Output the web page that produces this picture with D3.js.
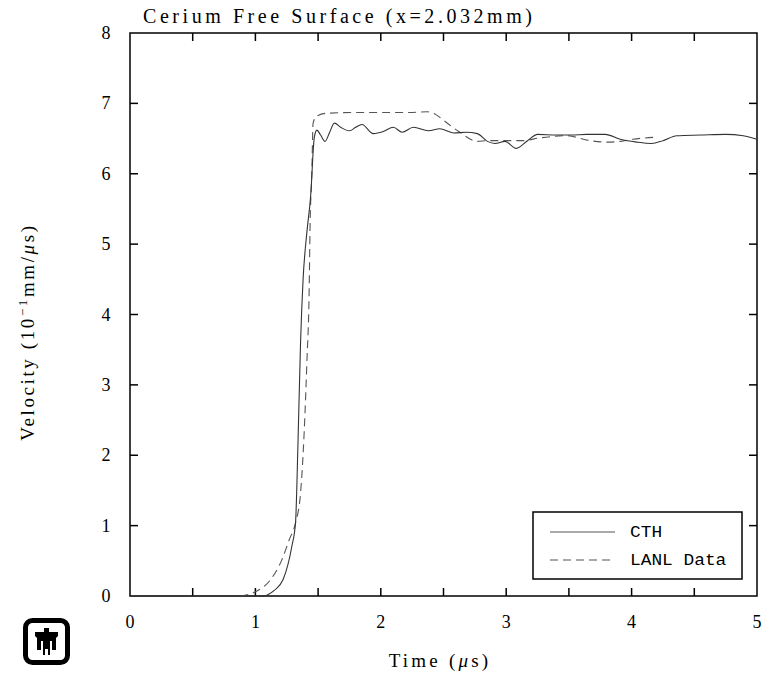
<!DOCTYPE html>
<html>
<head>
<meta charset="utf-8">
<script src="https://cdn.jsdelivr.net/npm/d3@7"></script>
<style>
  body { margin: 0; background: #fff; }
  text { font-family: "Liberation Serif", "DejaVu Serif", serif; fill: #000; }
  text.mono { font-family: "Liberation Mono", "DejaVu Sans Mono", monospace; }
</style>
</head>
<body>
<svg id="chart" width="765" height="681"></svg>
<script>
// CTH simulation (time in us, velocity in 10^-1 mm/us)
var cthTime = [0, 1.06, 1.15, 1.22, 1.29, 1.32, 1.34, 1.36, 1.38, 1.41, 1.44, 1.47, 1.49, 1.52, 1.555, 1.59,
    1.63, 1.68, 1.75, 1.80, 1.85, 1.94, 2.02, 2.10, 2.17, 2.26, 2.38, 2.47, 2.58, 2.68, 2.77, 2.85, 2.91,
    2.99, 3.08, 3.17, 3.25, 3.40, 3.52, 3.64, 3.79, 3.91, 4.04, 4.16, 4.25, 4.36, 4.55, 4.75, 4.89, 5.0];
var cthVel = [0, 0, 0.08, 0.23, 0.70, 1.04, 2.2, 3.6, 4.49, 5.16, 5.67, 6.52, 6.62, 6.55, 6.46, 6.58,
    6.72, 6.66, 6.61, 6.66, 6.70, 6.57, 6.60, 6.66, 6.59, 6.66, 6.61, 6.64, 6.58, 6.59, 6.57, 6.46, 6.43,
    6.46, 6.36, 6.47, 6.56, 6.55, 6.55, 6.56, 6.56, 6.49, 6.45, 6.43, 6.47, 6.54, 6.55, 6.56, 6.54, 6.49];

// LANL experimental data
var lanlTime = [0.88, 1.0, 1.12, 1.21, 1.27, 1.32, 1.36, 1.38, 1.41, 1.43, 1.435, 1.45, 1.46, 1.49, 1.57,
    1.8, 2.23, 2.37, 2.44, 2.50, 2.63, 2.77, 2.85, 3.13, 3.27, 3.48, 3.67, 3.80, 3.91, 4.01, 4.20];
var lanlVel = [0, 0.06, 0.23, 0.51, 0.80, 1.04, 1.46, 2.0, 3.3, 4.49, 5.16, 6.01, 6.72, 6.82, 6.86,
    6.87, 6.87, 6.88, 6.84, 6.76, 6.59, 6.46, 6.47, 6.47, 6.51, 6.54, 6.47, 6.45, 6.46, 6.49, 6.52];

var xTicks = [0, 1, 2, 3, 4, 5];
var xMinorTicks = [0.5, 1, 1.5, 2, 2.5, 3, 3.5, 4, 4.5];
var yTicks = [0, 1, 2, 3, 4, 5, 6, 7, 8];
var seriesNames = ['CTH', 'LANL Data'];

(function () {
    var svg = d3.select('#chart');
    var pLeft = 130, pRight = 757, pTop = 33, pBottom = 596;
    var tickLen = 8;

    var x = d3.scaleLinear().domain([0, 5]).range([pLeft, pRight]);
    var y = d3.scaleLinear().domain([0, 8]).range([pBottom, pTop]);

    // frame
    svg.append('rect')
        .attr('x', pLeft).attr('y', pTop)
        .attr('width', pRight - pLeft).attr('height', pBottom - pTop)
        .attr('fill', 'none').attr('stroke', '#000').attr('stroke-width', 1.5);

    // ticks, inward on all sides
    var g = svg.append('g').attr('stroke', '#000').attr('stroke-width', 1.5);
    xMinorTicks.forEach(function (t) {
        g.append('line').attr('x1', x(t)).attr('x2', x(t)).attr('y1', pBottom).attr('y2', pBottom - tickLen);
        g.append('line').attr('x1', x(t)).attr('x2', x(t)).attr('y1', pTop).attr('y2', pTop + tickLen);
    });
    yTicks.slice(1, -1).forEach(function (v) {
        g.append('line').attr('x1', pLeft).attr('x2', pLeft + tickLen).attr('y1', y(v)).attr('y2', y(v));
        g.append('line').attr('x1', pRight).attr('x2', pRight - tickLen).attr('y1', y(v)).attr('y2', y(v));
    });

    // tick labels
    svg.selectAll('.xlab').data(xTicks).enter().append('text')
        .attr('x', d => x(d)).attr('y', 628)
        .attr('text-anchor', 'middle').attr('font-size', 18)
        .text(d => d);
    svg.selectAll('.ylab').data(yTicks).enter().append('text')
        .attr('x', 106).attr('y', d => y(d) + 6)
        .attr('text-anchor', 'middle').attr('font-size', 18)
        .text(d => d);

    // title + axis labels
    svg.append('text').attr('x', 143).attr('y', 23).attr('font-size', 20)
        .attr('textLength', 389).attr('lengthAdjust', 'spacing')
        .text('Cerium Free Surface (x=2.032mm)');

    var xl = svg.append('text').attr('x', 440).attr('y', 667).attr('font-size', 19)
        .attr('text-anchor', 'middle').attr('letter-spacing', 3.2);
    xl.append('tspan').text('Time (');
    xl.append('tspan').attr('font-style', 'italic').text('\u03bc');
    xl.append('tspan').text('s)');

    var yl = svg.append('text')
        .attr('transform', 'translate(34,332) rotate(-90)')
        .attr('text-anchor', 'middle').attr('font-size', 19).attr('letter-spacing', 2.6);
    yl.append('tspan').text('Velocity (10');
    yl.append('tspan').attr('dy', -7).attr('font-size', 13).text('\u22121');
    yl.append('tspan').attr('dy', 7).text('mm/');
    yl.append('tspan').attr('font-style', 'italic').text('\u03bc');
    yl.append('tspan').text('s)');

    // series
    var line = d3.line().x(d => x(d[0])).y(d => y(d[1])).curve(d3.curveMonotoneX);
    var cthPts = cthTime.map((t, i) => [t, cthVel[i]]);
    var lanlPts = lanlTime.map((t, i) => [t, lanlVel[i]]);

    svg.append('path').attr('d', line(lanlPts))
        .attr('fill', 'none').attr('stroke', '#555').attr('stroke-width', 1.1)
        .attr('stroke-dasharray', '8,5');
    svg.append('path').attr('d', line(cthPts))
        .attr('fill', 'none').attr('stroke', '#333').attr('stroke-width', 1.1);

    // legend
    var lg = svg.append('g');
    lg.append('rect').attr('x', 533).attr('y', 512).attr('width', 209).attr('height', 67)
        .attr('fill', '#fff').attr('stroke', '#000').attr('stroke-width', 1.5);
    lg.append('line').attr('x1', 550).attr('x2', 615).attr('y1', 532).attr('y2', 532)
        .attr('stroke', '#555').attr('stroke-width', 1.1);
    lg.append('line').attr('x1', 550).attr('x2', 615).attr('y1', 560).attr('y2', 560)
        .attr('stroke', '#555').attr('stroke-width', 1.1).attr('stroke-dasharray', '8,5');
    seriesNames.forEach(function (name, i) {
        lg.append('text').attr('class', 'mono').attr('x', 630).attr('y', 537 + i * 28)
            .attr('font-size', 16)
            .attr('textLength', name.length * 10.7).attr('lengthAdjust', 'spacingAndGlyphs')
            .text(name);
    });

    // Sandia thunderbird logo
    var logo = svg.append('g').attr('transform', 'translate(23,618)');
    logo.append('rect').attr('x', 2.5).attr('y', 2.5).attr('width', 42).attr('height', 42)
        .attr('rx', 7).attr('fill', '#fff').attr('stroke', '#000').attr('stroke-width', 5);
    logo.append('path').attr('fill', '#000')
        .attr('d', 'M21 10 h5 v4 h9 v4 l-2 2 v12 h-4 v-9 h-2 v14 h-2 v-6 h-3 v6 h-2 v-14 h-2 v9 h-4 v-12 l-2 -2 v-4 h9 z');
})();
</script>
</body>
</html>
